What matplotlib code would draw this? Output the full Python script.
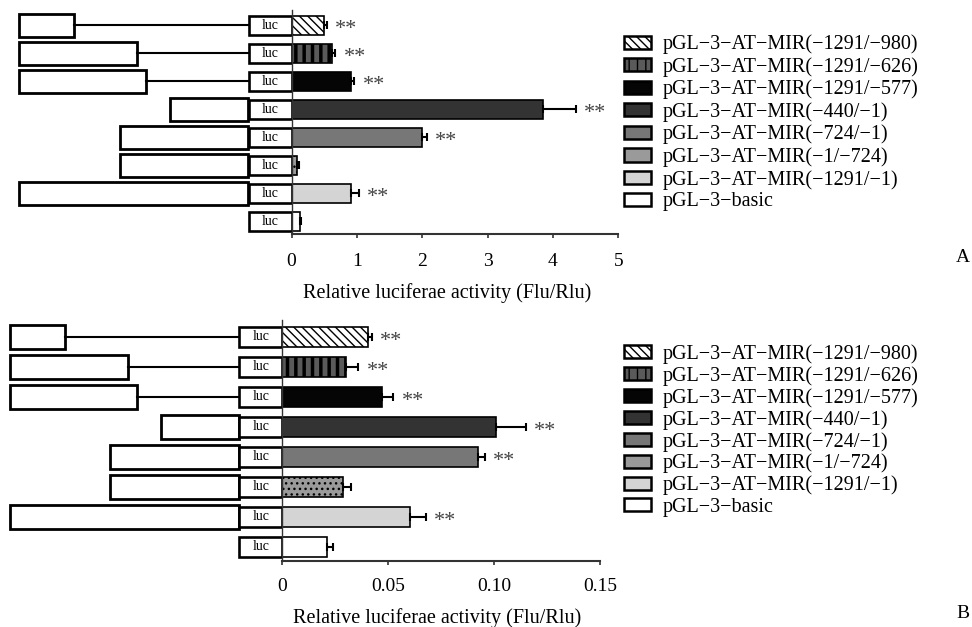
import matplotlib
matplotlib.use("Agg")
import matplotlib.pyplot as plt
from matplotlib.patches import Patch

plt.rcParams['font.family'] = ['Liberation Serif', 'DejaVu Serif']

# Konstrukt-namn (uppifrån och ned)
labels = ['pGL−3−AT−MIR(−1291/−980)', 'pGL−3−AT−MIR(−1291/−626)',
          'pGL−3−AT−MIR(−1291/−577)', 'pGL−3−AT−MIR(−440/−1)',
          'pGL−3−AT−MIR(−724/−1)', 'pGL−3−AT−MIR(−1/−724)',
          'pGL−3−AT−MIR(−1291/−1)', 'pGL−3−basic']

# promotorfragmentens gränser i bp (None = tom vektor)
frag_start = [-1291, -1291, -1291, -440, -724, -1, -1291, None]
frag_end = [-980, -626, -577, -1, -1, -724, -1, None]

# panel A
act_a = [0.50, 0.62, 0.91, 3.84, 1.99, 0.09, 0.91, 0.13]
err_a = [0.04, 0.05, 0.05, 0.51, 0.08, 0.03, 0.12, 0.01]
ticks_a = [0, 1, 2, 3, 4, 5]
ticklab_a = ['0', '1', '2', '3', '4', '5']

# panel B
act_b = [0.0402, 0.0302, 0.0470, 0.1009, 0.0923, 0.0287, 0.0601, 0.0210]
err_b = [0.0020, 0.0057, 0.0054, 0.0140, 0.0032, 0.0036, 0.0076, 0.0027]
ticks_b = [0, 0.05, 0.10, 0.15]
ticklab_b = ['0', '0.05', '0.10', '0.15']

signif = [True, True, True, True, True, False, True, False]

# utseende för staplarna
faces = ['white', '#5a5a5a', '#050505', '#333333', '#777777', '#9a9a9a', '#d4d4d4', 'white']
hatches = ['\\\\\\\\', '||', '', '', '', '...', '', '']

W, H = 972, 627
PX_PER_BP = 0.178
LUC_W = 242  # luc-rutans bredd i bp-ekvivalenter


def fig_rect(x0, y0, x1, y1):
    # pixelkoordinater (origo uppe till vänster) -> figurkoordinater
    return [x0 / W, 1 - y1 / H, (x1 - x0) / W, (y1 - y0) / H]


def draw_panel(fig, zero_px, right_px, top_px, bottom_px, ylim, acts, errs,
               ticks, ticklab, xlab_xy, tickpad):
    ax_s = fig.add_axes(fig_rect(0, top_px, zero_px, bottom_px))
    ax = fig.add_axes(fig_rect(zero_px, top_px, right_px, bottom_px))
    rows = list(range(len(labels)))

    # schematisk bild av konstrukten
    ax_s.set_xlim(LUC_W - zero_px / PX_PER_BP, LUC_W)
    ax_s.set_ylim(*ylim)
    ax_s.axis('off')
    for i in rows:
        if frag_start[i] is not None:
            lo = min(frag_start[i], frag_end[i])
            hi = max(frag_start[i], frag_end[i])
            ax_s.barh(i, hi - lo, left=lo, height=0.8, color='white',
                      edgecolor='black', linewidth=2.0)
            if hi < -1:
                ax_s.plot([hi, 0], [i, i], color='black', lw=1.5)
        ax_s.barh(i, LUC_W, left=0, height=0.67, color='white',
                  edgecolor='black', linewidth=1.9)
        ax_s.text(LUC_W / 2, i, 'luc', ha='center', va='center', fontsize=10)

    # staplar
    bars = ax.barh(rows, acts, height=0.67, color=faces, edgecolor='black', linewidth=1.2)
    for b, h in zip(bars, hatches):
        if h:
            b.set_hatch(h)
            if h == '||' and hasattr(b, 'set_hatch_linewidth'):
                b.set_hatch_linewidth(2.5)
    ax.errorbar(acts, rows, xerr=[[0] * len(acts), errs], fmt='none', ecolor='black',
                elinewidth=1.5, capsize=3.2, capthick=1.5)
    for i in rows:
        if signif[i]:
            ax.annotate('**', xy=(acts[i] + errs[i], i), xytext=(6, -6.5),
                        textcoords='offset points', ha='left', va='baseline',
                        fontsize=16, color='#444444', annotation_clip=False)

    ax.set_xlim(ticks[0], ticks[-1])
    ax.set_ylim(*ylim)
    ax.set_xticks(ticks)
    ax.set_xticklabels(ticklab, fontsize=14)
    ax.set_yticks([])
    for s in ['top', 'right']:
        ax.spines[s].set_visible(False)
    ax.spines['bottom'].set_linewidth(1.5)
    ax.spines['bottom'].set_color('#333333')
    ax.spines['left'].set_linewidth(1.0)
    ax.spines['left'].set_color('#333333')
    ax.tick_params(axis='x', length=3, width=1.2, color='#333333', pad=tickpad)
    ax.patch.set_alpha(0)
    fig.text(xlab_xy[0] / W, 1 - xlab_xy[1] / H, 'Relative luciferae activity (Flu/Rlu)',
             ha='center', va='center', fontsize=14.5)
    return ax


fig = plt.figure(figsize=(9.72, 6.27), dpi=100)

draw_panel(fig, 291.6, 618.3, 10, 234, (7.45, -0.55), act_a, err_a,
           ticks_a, ticklab_a, (447, 293), 11)
draw_panel(fig, 282.4, 600, 320, 561, (7.48, -0.56), act_b, err_b,
           ticks_b, ticklab_b, (437.5, 618), 9)

# legender
handles = []
for i in range(len(labels)):
    h = hatches[i] if i < 2 else ''
    handles.append(Patch(facecolor=faces[i], edgecolor='black', linewidth=1.8, hatch=h))

for top, spacing in [(34.5, 0.14), (344, 0.11)]:
    fig.legend(handles, labels, loc='upper left', bbox_to_anchor=(624 / W, 1 - top / H),
               frameon=False, fontsize=14.5, handlelength=1.33, handleheight=0.63,
               handletextpad=0.6, labelspacing=spacing, borderpad=0, borderaxespad=0)

fig.text(963 / W, 1 - 258 / H, 'A', ha='center', va='center', fontsize=14)
fig.text(963 / W, 1 - 613 / H, 'B', ha='center', va='center', fontsize=14)

fig.savefig('out.png', dpi=100)
